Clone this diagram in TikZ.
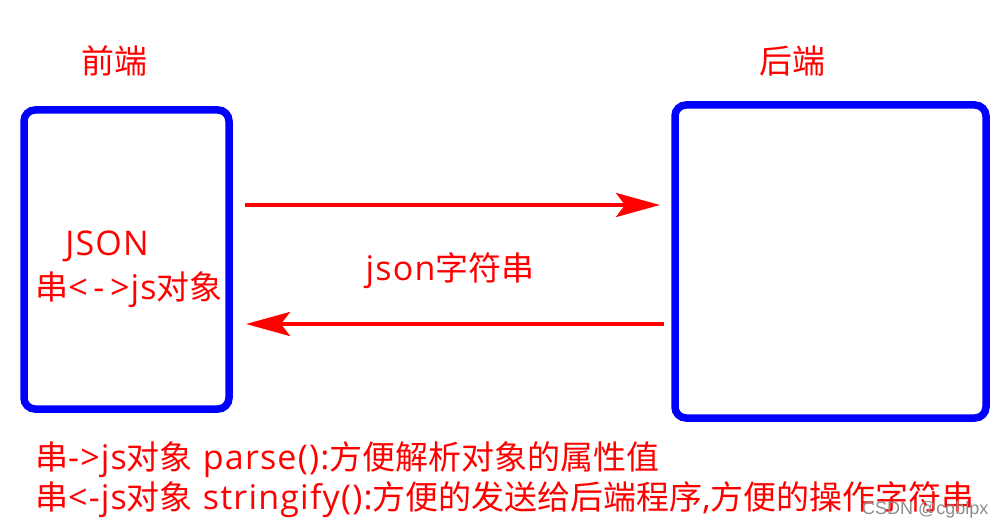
\documentclass[tikz,border=0pt]{standalone}
\usepackage{fontspec}
\setmainfont{Open Sans}[LetterSpace=3.5]
\newfontfamily\cjk[Scale=0.97]{Noto Sans CJK SC}
\newfontfamily\wmfont{Liberation Sans}
\usetikzlibrary{arrows.meta}
\definecolor{pred}{RGB}{255,0,0}
\definecolor{pblue}{RGB}{0,0,255}
\tikzset{
  endbox/.style={draw=pblue, line width=7.5pt, rounded corners=11pt},
  flow/.style={draw=pred, line width=4pt, -{Stealth[length=44pt,width=24pt,inset=9pt]}},
  lbl/.style={text=pred, inner sep=0pt, font=\fontsize{34}{40}\selectfont},
  wm/.style={text=black!45, inner sep=0pt, font=\wmfont\fontsize{18}{20}\selectfont}
}
\begin{document}
\begin{tikzpicture}[x=1pt,y=-1pt]
\useasboundingbox (0,0) rectangle (1005,527);
% boxes
\draw[endbox] (24,110) rectangle (229,409);
\draw[endbox] (675,105) rectangle (986,418);
\coordinate (feR1) at (245,205);
\coordinate (beL1) at (660,205);
\coordinate (beL2) at (664,324);
\coordinate (feR2) at (246,324);
% titles
\node[lbl, anchor=center] (tfe) at (114,61) {\cjk 前端};
\node[lbl, anchor=center] (tbe) at (792,61) {\cjk 后端};
% inside left box
\node[lbl, anchor=base] (json) at (107,255) {JSON};
\node[lbl, anchor=base] (conv) at (129,299) {{\cjk 串}<\,-\,>js{\cjk 对象}};
% arrows
\draw[flow] (feR1) -- (beL1);
\draw[flow] (beL2) -- (feR2);
\node[lbl, anchor=base] (mid) at (450,280) {json{\cjk 字符串}};
% bottom lines
\node[lbl, anchor=base west] (l1) at (35,469) {{\cjk 串}->js{\cjk 对象} parse():{\cjk 方便解析对象的属性值}};
\node[lbl, anchor=base west] (l2) at (35,509) {{\cjk 串}<-js{\cjk 对象} stringify():{\cjk 方便的发送给后端程序},{\cjk 方便的操作字符串}};
% watermark
\node[wm, anchor=base west] (wmk) at (862,514) {CSDN @cgblpx};
\end{tikzpicture}
\end{document}
